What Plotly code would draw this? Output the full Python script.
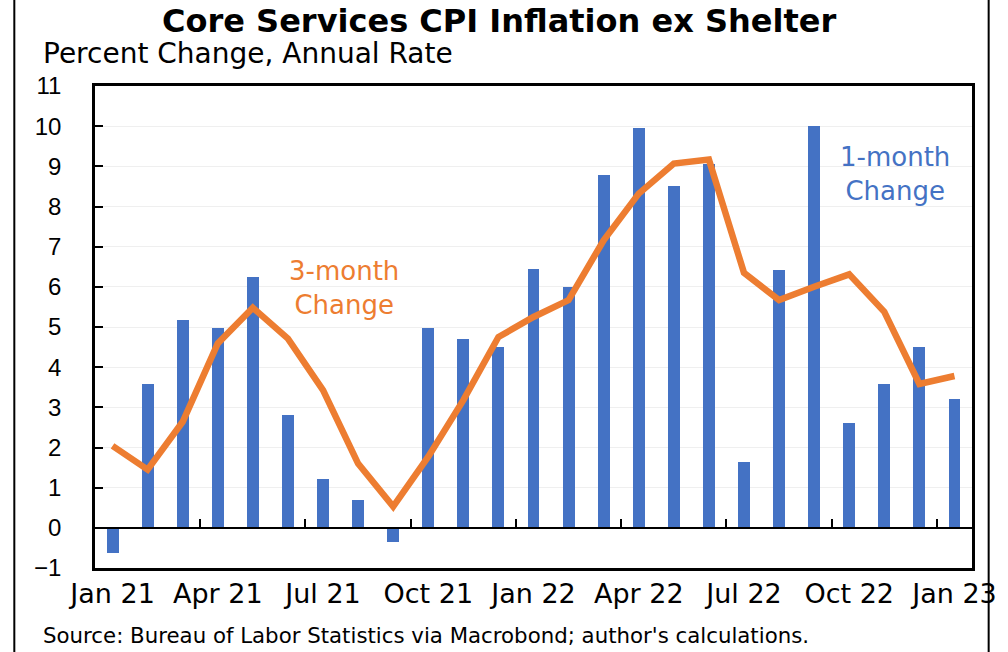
import plotly.graph_objects as go

months = ["Jan 21", "Feb 21", "Mar 21", "Apr 21", "May 21", "Jun 21", "Jul 21", "Aug 21",
          "Sep 21", "Oct 21", "Nov 21", "Dec 21", "Jan 22", "Feb 22", "Mar 22", "Apr 22",
          "May 22", "Jun 22", "Jul 22", "Aug 22", "Sep 22", "Oct 22", "Nov 22", "Dec 22", "Jan 23"]
one_month = [-0.62, 3.57, 5.17, 4.98, 6.25, 2.81, 1.21, 0.70, -0.35, 4.98, 4.70, 4.51, 6.44,
             6.00, 8.79, 9.95, 8.50, 9.05, 1.65, 6.43, 10.00, 2.62, 3.57, 4.51, 3.20]
three_month = [2.04, 1.45, 2.64, 4.59, 5.48, 4.71, 3.43, 1.60, 0.53, 1.77, 3.18, 4.75, 5.25,
               5.67, 7.16, 8.32, 9.07, 9.17, 6.35, 5.67, 6.00, 6.31, 5.38, 3.58, 3.78]
tick_labels = ["Jan 21", "Apr 21", "Jul 21", "Oct 21", "Jan 22", "Apr 22", "Jul 22", "Oct 22", "Jan 23"]
boundary_ticks = [2.5, 5.5, 8.5, 11.5, 14.5, 17.5, 20.5, 23.5]
y_ticks = list(range(-1, 12))

FONT = "DejaVu Sans, Verdana, sans-serif"
NUM_FONT = "Liberation Sans, Arial, sans-serif"
BLUE = "#4472C4"
ORANGE = "#ED7D31"

fig = go.Figure()
fig.add_trace(go.Bar(x=months, y=one_month, marker=dict(color=BLUE, line=dict(width=0)),
                     width=0.34, showlegend=False))
fig.add_trace(go.Scatter(x=months, y=three_month, mode="lines",
                         line=dict(color=ORANGE, width=6.5), showlegend=False))
fig.add_trace(go.Scatter(x=[boundary_ticks[0]], y=[None], xaxis="x2", mode="markers",
                         showlegend=False, hoverinfo="skip"))

fig.update_layout(
    width=1008, height=652,
    margin=dict(l=95, r=22, t=86, b=84),
    paper_bgcolor="white", plot_bgcolor="white",
    font=dict(family=FONT, color="black"),
    xaxis=dict(type="category", categoryorder="array", categoryarray=months,
               range=[-0.5, 24.5], tickvals=tick_labels, ticktext=tick_labels,
               ticks="", showgrid=False, showline=True, linecolor="black", linewidth=2.5,
               mirror=True, tickfont=dict(size=27, family=FONT), zeroline=False),
    xaxis2=dict(overlaying="x", anchor="free", position=1/12, type="linear",
                range=[-0.5, 24.5], tickvals=boundary_ticks, ticks="inside", ticklen=8,
                tickwidth=2, tickcolor="black", showticklabels=False, showgrid=False,
                showline=True, linecolor="black", linewidth=2, zeroline=False),
    yaxis=dict(range=[-1, 11], tickvals=y_ticks, ticks="inside", ticklen=8, tickwidth=2,
               tickcolor="black", showgrid=True, gridcolor="#EFEFEF", gridwidth=1,
               showline=True, linecolor="black", linewidth=2.5, mirror=True,
               zeroline=False, tickfont=dict(size=24, family=NUM_FONT), ticklabelstandoff=26),
    bargap=0,
)

fig.add_annotation(text="<b>Core Services CPI Inflation ex Shelter</b>", xref="paper", yref="paper",
                   x=0.461, y=1, yshift=65, xanchor="center", yanchor="middle", showarrow=False,
                   font=dict(size=32, family=FONT, color="black"))
fig.add_annotation(text="Percent Change, Annual Rate", xref="paper", yref="paper",
                   x=-0.062, y=1, yshift=33, xanchor="left", yanchor="middle", showarrow=False,
                   font=dict(size=28, family=FONT, color="black"))
fig.add_annotation(text="Source: Bureau of Labor Statistics via Macrobond; author's calculations.",
                   xref="paper", yref="paper", x=-0.062, y=0, yshift=-67, xanchor="left",
                   yanchor="middle", showarrow=False, font=dict(size=21.3, family=FONT, color="black"))
fig.add_annotation(text="3-month<br>Change", x="Jul 21", y=5.97, xshift=21, showarrow=False,
                   font=dict(size=26, family=FONT, color=ORANGE), align="center")
fig.add_annotation(text="1-month<br>Change", x="Oct 22", y=8.8, xshift=46, showarrow=False,
                   font=dict(size=26, family=FONT, color=BLUE), align="center")

fig.add_shape(type="line", xref="paper", yref="paper", x0=-0.092, x1=-0.092, y0=-0.2, y1=1.2,
              line=dict(color="black", width=2))
fig.add_shape(type="line", xref="paper", yref="paper", x0=1.019, x1=1.019, y0=-0.2, y1=1.2,
              line=dict(color="black", width=2))

fig.write_html("out.html", config={"displayModeBar": False},
               post_script="document.body.style.margin='0px';document.body.style.overflow='hidden';")
